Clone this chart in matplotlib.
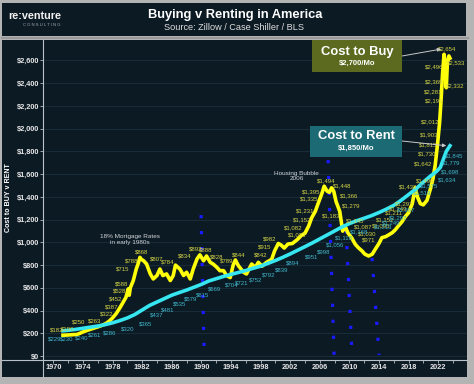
import matplotlib
matplotlib.use('Agg')
import matplotlib.pyplot as plt
from matplotlib.patches import Rectangle
from matplotlib.lines import Line2D

plt.rcParams['font.family'] = ['Liberation Sans', 'DejaVu Sans']

W, H = 474, 384
BG = '#0c1a24'
FRAME = '#b4b4b4'
AXIS = '#b8c0c8'

# Cost to buy (monthly payment)
buy_years = [1971.3, 1972.0, 1972.7, 1973.2, 1973.6, 1974.0, 1974.5, 1975.0, 1975.5,
             1976.0, 1976.7, 1977.2, 1977.6, 1978.0, 1978.5, 1979.0, 1979.4, 1979.8,
             1980.0, 1980.1, 1980.25, 1980.4, 1980.8, 1981.2, 1981.5, 1981.7, 1981.9,
             1982.2, 1982.6, 1983.1, 1983.5, 1984.0, 1984.4, 1984.8, 1985.3, 1985.8,
             1986.2, 1986.5, 1987.1, 1987.6, 1988.0, 1988.5, 1988.9, 1989.4, 1989.8,
             1990.3, 1990.7, 1991.2, 1991.6, 1992.1, 1992.5, 1993.0, 1993.4, 1993.9,
             1994.3, 1994.6, 1995.0, 1995.7, 1996.1, 1996.8, 1997.3, 1997.7, 1998.2,
             1998.8, 1999.5, 1999.9, 2000.4, 2000.8, 2001.2, 2001.7, 2002.3, 2003.0,
             2003.5, 2004.0, 2004.5, 2004.9, 2005.4, 2005.8, 2006.3, 2006.6, 2007.0,
             2007.3, 2007.6, 2007.9, 2008.2, 2008.7, 2008.9, 2009.1, 2009.4, 2009.8,
             2010.3, 2010.8, 2011.2, 2011.7, 2012.1, 2012.6, 2013.1, 2013.5, 2014.0,
             2014.4, 2014.9, 2015.3, 2015.8, 2016.2, 2016.7, 2017.1, 2017.6, 2018.0,
             2018.5, 2018.9, 2019.2, 2019.6, 2020.0, 2020.5, 2021.0, 2021.3, 2021.6,
             2021.9, 2022.2, 2022.4, 2022.6, 2022.8, 2022.95, 2023.1, 2023.25, 2023.45,
             2023.6]
buy_vals = [183, 185, 188, 190, 200, 212, 224, 235, 246,
            256, 273, 290, 310, 335, 374, 425, 470, 515,
            560, 590, 535, 600, 664, 765, 820, 868, 850,
            838, 809, 722, 678, 708, 765, 708, 722, 664,
            708, 800, 765, 708, 737, 678, 765, 852, 890,
            838, 880, 824, 809, 780, 751, 751, 708, 690,
            800, 845, 795, 737, 722, 809, 780, 824, 790,
            824, 850, 925, 990, 975, 950, 985, 990, 1026,
            1060, 1080, 1143, 1215, 1273, 1345, 1432, 1494, 1450,
            1440, 1480, 1448, 1360, 1273, 1186, 1099, 1145, 1084,
            1041, 983, 954, 925, 896, 880, 896, 939, 990,
            1041, 1050, 1065, 1085, 1110, 1150, 1180, 1230, 1260,
            1340, 1480, 1400, 1340, 1330, 1370, 1480, 1560, 1678,
            1852, 2056, 2258, 2490, 2654, 2560, 2360, 2580, 2640,
            2620]

# Cost to rent
rent_years = [1971.3, 1972, 1973, 1974, 1975, 1976, 1977, 1978, 1979, 1980,
              1981, 1982, 1983, 1984, 1985, 1986, 1987, 1988, 1989, 1990,
              1991, 1992, 1993, 1994, 1995, 1996, 1997, 1998, 1999, 2000,
              2001, 2002, 2003, 2004, 2005, 2006, 2007, 2008, 2009, 2010,
              2011, 2012, 2013, 2014, 2015, 2016, 2017, 2018, 2019, 2020,
              2021, 2021.8, 2022.3, 2022.7, 2023.1, 2023.6]
rent_vals = [222, 226, 234, 244, 254, 264, 276, 292, 312, 335,
             365, 405, 445, 475, 505, 535, 558, 580, 605, 630,
             660, 680, 700, 718, 735, 752, 772, 790, 815, 840,
             868, 898, 930, 962, 995, 1030, 1065, 1100, 1135, 1165,
             1190, 1212, 1235, 1262, 1292, 1325, 1370, 1420, 1470, 1530,
             1585, 1625, 1660, 1730, 1800, 1850]

# value labels printed on the chart
buy_label_years = [1970.4, 1972.0, 1973.4, 1975.6, 1977.2, 1977.9, 1978.4, 1978.9, 1979.2,
                   1979.4, 1980.6, 1981.9, 1984.0, 1985.5, 1987.8, 1989.3, 1990.6, 1992.1,
                   1993.4, 1995.0, 1998.0, 1998.6, 1999.2, 2002.9, 2002.4, 2003.6, 2004.0,
                   2004.5, 2004.9, 2006.9, 2009.0, 2009.9, 2010.3, 2007.6, 2010.8, 2011.9,
                   2012.4, 2012.6, 2014.3, 2014.8, 2016.0, 2016.6, 2017.4, 2018.0, 2020.2,
                   2020.0, 2020.5, 2020.7, 2020.8, 2020.9, 2021.4, 2021.4, 2021.4, 2021.4,
                   2023.2, 2024.5, 2024.3]
buy_label_vals = [182, 190, 250, 263, 322, 387, 452, 528, 588,
                  715, 788, 868, 807, 784, 834, 892, 888, 828,
                  789, 844, 842, 915, 982, 1023, 1082, 1152, 1231,
                  1335, 1395, 1494, 1448, 1366, 1279, 1183, 1145, 1087,
                  1030, 971, 1095, 1152, 1211, 1249, 1297, 1438, 1499,
                  1642, 1730, 1815, 1903, 2012, 2196, 2281, 2369, 2496,
                  2654, 2533, 2332]
rent_label_years = [1970.2, 1971.8, 1973.8, 1975.6, 1977.6, 1980.0, 1982.5, 1984.0, 1985.5,
                    1987.0, 1988.5, 1990.1, 1991.8, 1994.1, 1995.4, 1997.4, 1999.1, 2000.8,
                    2002.4, 2004.9, 2006.6, 2008.1, 2009.3, 2011.3, 2014.6, 2015.6, 2016.6,
                    2017.7, 2019.9, 2020.8, 2023.2, 2023.6, 2023.7, 2024.1]
rent_label_vals = [229, 230, 240, 261, 286, 320, 365, 437, 481,
                   535, 579, 615, 669, 704, 721, 752, 792, 839,
                   894, 951, 998, 1056, 1118, 1168, 1213, 1249, 1297,
                   1367, 1519, 1575, 1634, 1698, 1779, 1845]

# blue dotted drops (start year, end year, top value, bottom value)
drop_year_top = [1989.96, 2007.13, 2009.56, 2013.07]
drop_year_bot = [1990.36, 2007.94, 2010.37, 2014.02]
drop_val_top = [1240, 1724, 1108, 862]
drop_val_bot = [79, 0, 0, 9]

years_ticks = list(range(1970, 2023, 4))
dollar_ticks = list(range(0, 2601, 200))


def fx(x):
    return x / W


def fy(y):
    return 1 - y / H


fig = plt.figure(figsize=(W / 100, H / 100), dpi=100)
fig.patch.set_facecolor(FRAME)

# dark panels: header and chart
fig.add_artist(Rectangle((fx(2), fy(36)), (466 - 2) / W, 33 / H, transform=fig.transFigure,
                         facecolor=BG, edgecolor='none', zorder=-5))
fig.add_artist(Rectangle((fx(2), fy(377)), (467 - 2) / W, (377 - 40) / H, transform=fig.transFigure,
                         facecolor=BG, edgecolor='none', zorder=-5))

ax = fig.add_axes([fx(43), fy(360), (467 - 43) / W, (360 - 40) / H])
ax.set_facecolor('none')
ax.set_zorder(1)
for s in ax.spines.values():
    s.set_visible(False)

ax.set_xlim(1968.6, 2025.9)
ax.set_ylim(-35, 2780)
ax.set_yticks(dollar_ticks, ['$' + format(v, ',') for v in dollar_ticks], fontweight='bold')
ax.set_xticks(years_ticks, [str(y) for y in years_ticks], fontweight='bold')
ax.set_xticks([y + 2 for y in years_ticks[:-1]] + [2024], minor=True)
ax.tick_params(axis='y', length=2, width=0.6, color=AXIS, labelcolor='#e6e6e6',
               labelsize=5.3, pad=1)
ax.tick_params(axis='x', which='both', length=2.5, width=0.6, color=AXIS,
               labelcolor='#e6e6e6', labelsize=5.3, pad=0.5)
ax.grid(axis='y', color='#1b2f3d', lw=0.6)
ax.set_axisbelow(True)

# axis lines crossing the whole panel
fig.add_artist(Line2D([fx(2), fx(467)], [fy(360), fy(360)], transform=fig.transFigure,
                      color=AXIS, lw=0.8, zorder=2))
fig.add_artist(Line2D([fx(43), fx(43)], [fy(40), fy(377)], transform=fig.transFigure,
                      color=AXIS, lw=0.8, zorder=2))
fig.add_artist(Line2D([fx(2), fx(468)], [fy(38), fy(38)], transform=fig.transFigure,
                      color='#9a9a9a', lw=1.5, zorder=2))

# blue dotted drops
for x0, x1, v0, v1 in zip(drop_year_top, drop_year_bot, drop_val_top, drop_val_bot):
    ax.plot([x0, x1], [v0, v1], color='#1a1aff', lw=2.3, linestyle=(0, (1, 4)),
            dash_capstyle='butt', zorder=2)

ax.plot(buy_years, buy_vals, color='#ffff0a', lw=2.6, zorder=3, solid_joinstyle='round')
ax.plot(rent_years, rent_vals, color='#36e6f0', lw=2.6, zorder=4, solid_joinstyle='round')

for yr, v in zip(buy_label_years, buy_label_vals):
    ax.annotate('$' + format(v, ','), (yr, v), xytext=(0, 3.8), textcoords='offset points',
                ha='center', va='center', fontsize=4.3, color='#d4d446', zorder=5)
for yr, v in zip(rent_label_years, rent_label_vals):
    ax.annotate('$' + format(v, ','), (yr, v), xytext=(0, -6.5), textcoords='offset points',
                ha='center', va='center', fontsize=4.3, color='#3fb6ca', zorder=5)

ax.text(1980.4, 1025, '18% Mortgage Rates\nin early 1980s', ha='center', va='center',
        fontsize=4.6, color='#d0d4d8', linespacing=1.1)
ax.text(2002.9, 1583, 'Housing Bubble\n2006', ha='center', va='center',
        fontsize=4.6, color='#d0d4d8', linespacing=1.1)

# callout boxes
fig.add_artist(Rectangle((fx(312), fy(72)), 90 / W, 32 / H, transform=fig.transFigure,
                         facecolor='#5c6a20', edgecolor='none', zorder=6))
fig.text(fx(357), fy(51.5), 'Cost to Buy', ha='center', va='center', fontsize=9.4,
         fontweight='bold', color='white', zorder=7)
fig.text(fx(357), fy(63.5), '$2,700/Mo', ha='center', va='center', fontsize=5.5,
         fontweight='bold', color='white', zorder=7)
fig.add_artist(Rectangle((fx(310), fy(157)), 92 / W, 31 / H, transform=fig.transFigure,
                         facecolor='#1b6a74', edgecolor='none', zorder=6))
fig.text(fx(356), fy(136), 'Cost to Rent', ha='center', va='center', fontsize=9.4,
         fontweight='bold', color='white', zorder=7)
fig.text(fx(356), fy(148), '$1,850/Mo', ha='center', va='center', fontsize=5.5,
         fontweight='bold', color='white', zorder=7)
ax.annotate('', xy=(2022.4, 2700), xytext=(fx(402), fy(56)), textcoords='figure fraction',
            arrowprops=dict(arrowstyle='-|>', color='#c8c8c8', lw=0.7, mutation_scale=5,
                            shrinkA=0, shrinkB=0), zorder=7)
ax.annotate('', xy=(2023.1, 1850), xytext=(fx(402), fy(141)), textcoords='figure fraction',
            arrowprops=dict(arrowstyle='-|>', color='#c8c8c8', lw=0.7, mutation_scale=5,
                            shrinkA=0, shrinkB=0), zorder=7)

# header
fig.text(fx(235), fy(15), 'Buying v Renting in America', ha='center', va='center',
         fontsize=9.3, fontweight='bold', color='white')
fig.text(fx(234), fy(28), 'Source: Zillow / Case Shiller / BLS', ha='center', va='center',
         fontsize=6.6, color='#e0e0e0')
fig.text(fx(8), fy(16), 're:venture', ha='left', va='center', fontsize=7.8,
         fontweight='bold', color='#f2f2f2')
fig.text(fx(60), fy(24.5), 'C O N S U L T I N G', ha='right', va='center', fontsize=3,
         color='#a8b0b8')
fig.text(fx(9), fy(198), 'Cost to BUY v RENT', ha='center', va='center', rotation=90,
         fontsize=5.1, fontweight='bold', color='white')

fig.savefig('out.png', dpi=100, facecolor=fig.get_facecolor())
